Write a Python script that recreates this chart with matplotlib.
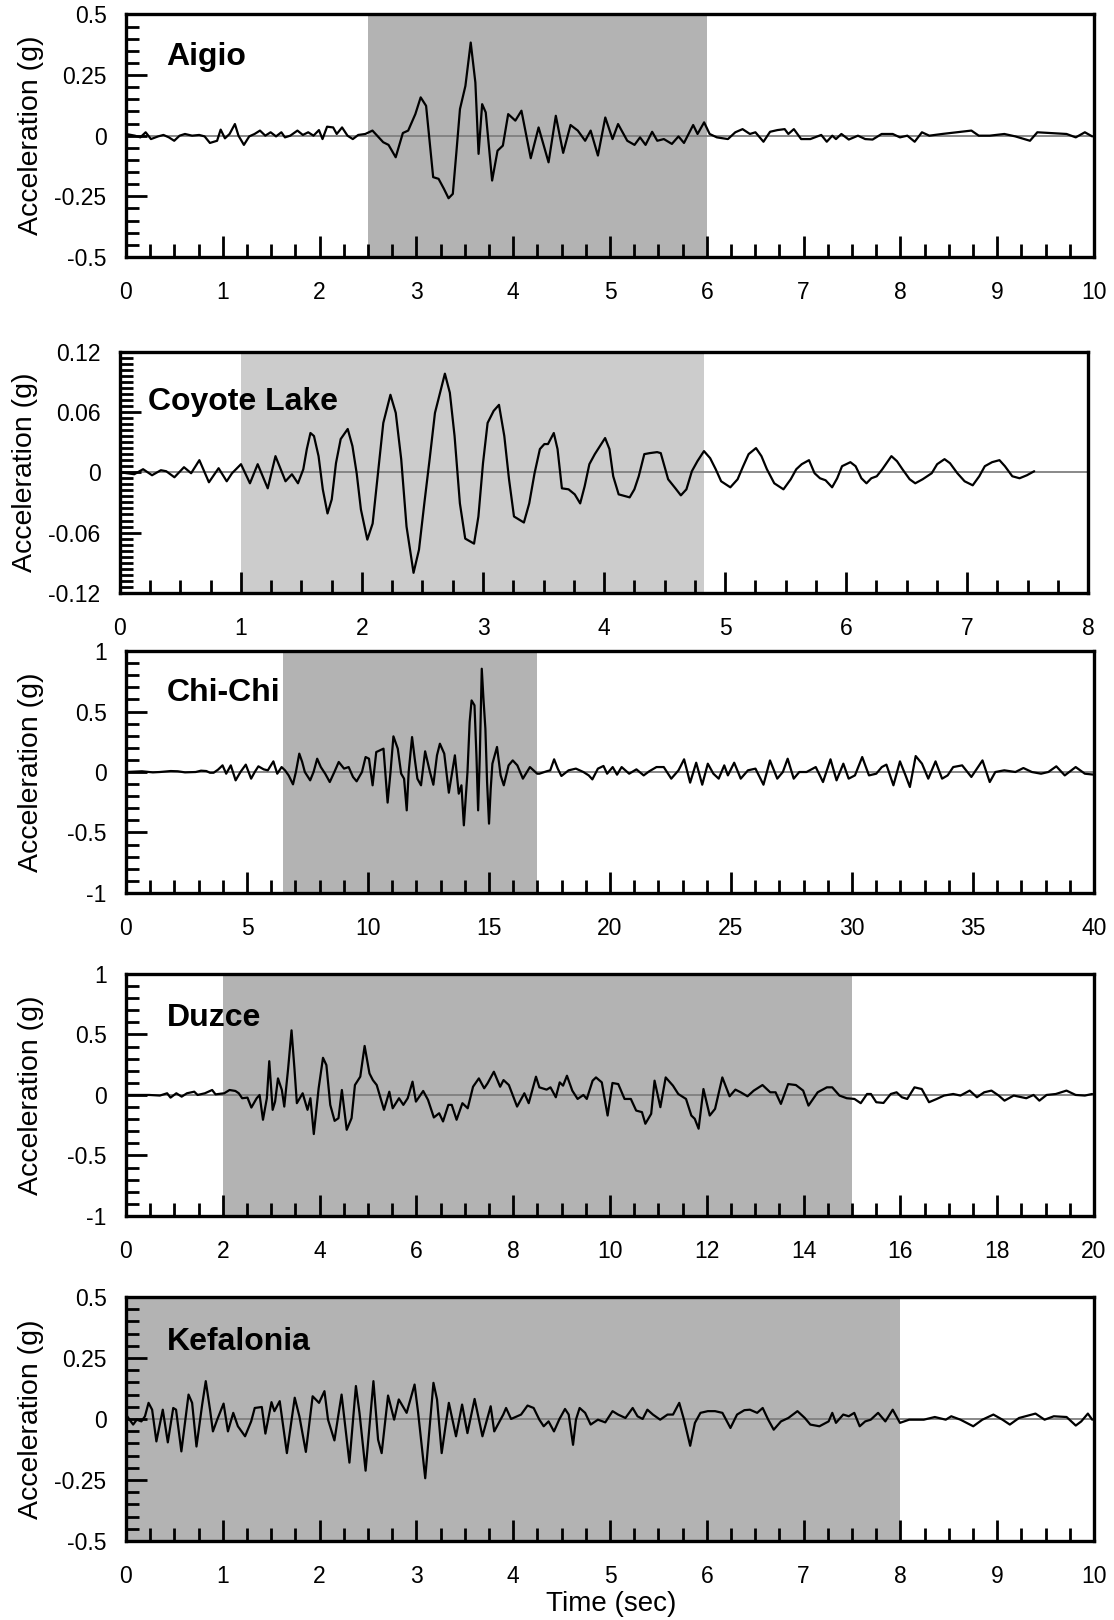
import matplotlib
matplotlib.use('Agg')
import matplotlib.pyplot as plt
from matplotlib.ticker import MultipleLocator, FixedLocator, FixedFormatter

plt.rcParams['font.family'] = ['Liberation Sans', 'DejaVu Sans']

# ---------------- data ----------------
names = ["Aigio", "Coyote Lake", "Chi-Chi", "Duzce", "Kefalonia"]

aigio_t = [0.000, 0.092, 0.148, 0.203, 0.258, 0.332, 0.387, 0.443, 0.498, 0.554, 0.609, 0.683, 0.756, 0.812, 0.867,
           0.941, 0.978, 1.022, 1.070, 1.125, 1.162, 1.218, 1.273, 1.328, 1.384, 1.439, 1.494, 1.550, 1.605, 1.642,
           1.697, 1.771, 1.827, 1.882, 1.937, 1.993, 2.030, 2.077, 2.140, 2.177, 2.232, 2.288, 2.343, 2.399, 2.472,
           2.546, 2.657, 2.712, 2.786, 2.860, 2.915, 2.989, 3.044, 3.100, 3.173, 3.229, 3.284, 3.332, 3.376, 3.413,
           3.450, 3.506, 3.561, 3.609, 3.642, 3.679, 3.716, 3.782, 3.838, 3.893, 3.948, 4.022, 4.085, 4.181, 4.262,
           4.365, 4.440, 4.516, 4.592, 4.667, 4.743, 4.800, 4.875, 4.951, 5.026, 5.083, 5.178, 5.253, 5.310, 5.367,
           5.435, 5.488, 5.556, 5.639, 5.707, 5.764, 5.859, 5.904, 5.972, 6.029, 6.104, 6.218, 6.294, 6.369, 6.445,
           6.502, 6.585, 6.653, 6.728, 6.804, 6.842, 6.899, 6.974, 7.069, 7.182, 7.239, 7.296, 7.334, 7.390, 7.466,
           7.561, 7.636, 7.712, 7.806, 7.920, 7.995, 8.071, 8.147, 8.222, 8.298, 8.430, 8.582, 8.733, 8.809, 8.922,
           9.073, 9.187, 9.338, 9.414, 9.546, 9.716, 9.811, 9.905, 9.981]
aigio_a = [0.007, 0.000, -0.007, 0.014, -0.014, -0.003, 0.003, -0.007, -0.021, 0.000, 0.007, 0.000, 0.003, -0.003, -0.030,
           -0.021, 0.025, -0.011, 0.007, 0.048, 0.000, -0.038, -0.003, 0.007, 0.021, 0.000, 0.014, -0.003, 0.014, -0.007,
           0.000, 0.021, 0.003, 0.014, 0.000, 0.023, -0.014, 0.037, 0.034, 0.007, 0.034, 0.000, -0.014, 0.003, 0.007,
           0.021, -0.027, -0.038, -0.089, 0.011, 0.021, 0.089, 0.158, 0.123, -0.171, -0.178, -0.219, -0.258, -0.240, -0.068,
           0.110, 0.205, 0.384, 0.219, -0.075, 0.130, 0.096, -0.185, -0.062, -0.041, 0.089, 0.062, 0.103, -0.093, 0.034,
           -0.110, 0.082, -0.071, 0.044, 0.021, -0.021, 0.021, -0.082, 0.075, -0.014, 0.048, -0.021, -0.038, -0.007, -0.038,
           0.016, -0.021, -0.014, -0.034, -0.003, -0.030, 0.044, 0.007, 0.055, 0.007, -0.007, -0.014, 0.014, 0.027, 0.007,
           0.014, -0.025, 0.016, 0.023, 0.027, 0.007, 0.027, -0.014, -0.014, 0.003, -0.025, 0.000, -0.014, 0.007, -0.016,
           0.000, -0.014, -0.016, 0.007, 0.007, -0.007, 0.000, -0.025, 0.014, 0.000, 0.007, 0.014, 0.021, 0.000, 0.000,
           0.007, -0.003, -0.021, 0.014, 0.011, 0.007, -0.007, 0.014, -0.003]

coyote_t = [0.000, 0.059, 0.118, 0.191, 0.265, 0.338, 0.382, 0.450, 0.529, 0.588, 0.656, 0.735, 0.815, 0.882, 0.926,
            1.000, 1.074, 1.138, 1.221, 1.285, 1.368, 1.421, 1.471, 1.515, 1.544, 1.574, 1.603, 1.641, 1.676, 1.715,
            1.750, 1.785, 1.824, 1.882, 1.921, 1.956, 1.991, 2.044, 2.088, 2.132, 2.176, 2.235, 2.279, 2.324, 2.368,
            2.426, 2.471, 2.515, 2.559, 2.603, 2.685, 2.726, 2.765, 2.809, 2.853, 2.926, 2.962, 3.000, 3.038, 3.088,
            3.132, 3.176, 3.215, 3.256, 3.338, 3.382, 3.426, 3.470, 3.507, 3.537, 3.585, 3.616, 3.652, 3.707, 3.758,
            3.803, 3.840, 3.879, 3.924, 4.009, 4.045, 4.076, 4.121, 4.212, 4.251, 4.287, 4.333, 4.378, 4.439, 4.469,
            4.530, 4.590, 4.635, 4.681, 4.726, 4.772, 4.826, 4.877, 4.923, 4.968, 5.044, 5.104, 5.150, 5.195, 5.256,
            5.301, 5.346, 5.407, 5.483, 5.543, 5.589, 5.634, 5.694, 5.740, 5.785, 5.831, 5.885, 5.927, 5.967, 6.036,
            6.079, 6.127, 6.169, 6.209, 6.254, 6.300, 6.375, 6.421, 6.466, 6.526, 6.572, 6.633, 6.708, 6.753, 6.814,
            6.859, 6.920, 6.980, 7.047, 7.101, 7.147, 7.207, 7.268, 7.313, 7.374, 7.434, 7.495, 7.555]
coyote_a = [0.000, -0.001, -0.002, 0.003, -0.003, 0.002, 0.001, -0.005, 0.005, -0.001, 0.012, -0.010, 0.004, -0.009, -0.001,
            0.008, -0.011, 0.008, -0.016, 0.016, -0.009, -0.002, -0.011, 0.003, 0.023, 0.039, 0.036, 0.016, -0.017, -0.041,
            -0.027, 0.009, 0.033, 0.043, 0.026, -0.001, -0.037, -0.067, -0.051, -0.001, 0.049, 0.077, 0.059, 0.013, -0.054,
            -0.100, -0.077, -0.031, 0.013, 0.059, 0.098, 0.079, 0.036, -0.031, -0.066, -0.071, -0.044, 0.009, 0.049, 0.061,
            0.067, 0.036, -0.007, -0.044, -0.050, -0.031, -0.001, 0.023, 0.028, 0.028, 0.039, 0.023, -0.016, -0.017, -0.022,
            -0.031, -0.014, 0.008, 0.018, 0.034, 0.023, -0.004, -0.022, -0.025, -0.017, -0.004, 0.018, 0.019, 0.020, 0.019,
            -0.007, -0.016, -0.023, -0.017, 0.001, 0.011, 0.021, 0.014, 0.003, -0.009, -0.015, -0.007, 0.006, 0.018, 0.024,
            0.016, 0.003, -0.011, -0.017, -0.007, 0.003, 0.008, 0.012, -0.001, -0.006, -0.008, -0.015, -0.006, 0.006, 0.010,
            0.006, -0.006, -0.011, -0.006, -0.004, 0.003, 0.016, 0.011, 0.003, -0.007, -0.011, -0.007, -0.001, 0.008, 0.013,
            0.009, -0.001, -0.009, -0.013, -0.004, 0.006, 0.010, 0.012, 0.006, -0.004, -0.006, -0.003, 0.001]

chichi_t = [0.00, 0.66, 1.11, 1.40, 1.85, 2.14, 2.44, 2.88, 3.10, 3.32, 3.47, 3.62, 3.80, 3.99, 4.14, 4.33, 4.53, 4.73,
            4.95, 5.17, 5.32, 5.47, 5.69, 5.86, 6.09, 6.25, 6.43, 6.57, 6.72, 6.90, 7.02, 7.16, 7.28, 7.39, 7.61, 7.75,
            7.90, 8.05, 8.23, 8.42, 8.61, 8.79, 9.01, 9.20, 9.38, 9.53, 9.75, 9.90, 10.04, 10.19, 10.34, 10.49, 10.64,
            10.81, 10.93, 11.05, 11.23, 11.37, 11.49, 11.60, 11.68, 11.82, 11.93, 12.04, 12.19, 12.36, 12.56, 12.70,
            12.85, 12.97, 13.15, 13.34, 13.59, 13.75, 13.86, 13.96, 14.11, 14.20, 14.28, 14.40, 14.48, 14.55, 14.62,
            14.70, 14.77, 14.85, 14.92, 15.00, 15.07, 15.14, 15.33, 15.48, 15.61, 15.81, 15.98, 16.17, 16.40, 16.69,
            16.99, 17.08, 17.38, 17.53, 17.69, 17.84, 17.99, 18.29, 18.59, 18.90, 19.12, 19.27, 19.50, 19.73, 19.88,
            20.11, 20.29, 20.48, 20.79, 21.09, 21.39, 21.62, 21.92, 22.22, 22.53, 22.83, 23.06, 23.31, 23.56, 23.81,
            24.04, 24.27, 24.49, 24.72, 24.87, 25.13, 25.40, 25.70, 26.01, 26.34, 26.61, 26.91, 27.14, 27.34, 27.59,
            27.82, 28.12, 28.50, 28.80, 29.11, 29.36, 29.64, 29.86, 30.12, 30.42, 30.70, 31.00, 31.23, 31.42, 31.71,
            31.98, 32.21, 32.39, 32.63, 32.89, 33.15, 33.45, 33.72, 33.95, 34.18, 34.55, 34.93, 35.39, 35.69, 35.92,
            36.29, 36.75, 37.08, 37.43, 37.81, 38.11, 38.44, 38.79, 39.24, 39.62, 40.00]
chichi_a = [0.000, 0.006, -0.003, 0.000, 0.008, 0.006, -0.003, 0.000, 0.011, 0.008, -0.006, -0.006, 0.019, 0.055, -0.014,
            0.055, -0.069, 0.000, 0.061, -0.055, 0.000, 0.047, 0.022, 0.014, 0.088, -0.014, 0.041, 0.014, -0.028, -0.102,
            0.000, 0.152, 0.083, 0.000, -0.069, 0.000, 0.110, 0.041, -0.014, -0.083, 0.000, 0.083, 0.028, 0.041, -0.041,
            -0.077, 0.000, 0.124, 0.110, -0.110, 0.165, 0.179, 0.193, -0.253, 0.000, 0.295, 0.193, -0.014, -0.055, -0.317,
            0.000, 0.289, 0.110, -0.055, -0.110, 0.171, 0.000, -0.105, 0.138, 0.234, 0.152, -0.171, 0.138, -0.179, -0.110,
            -0.441, 0.000, 0.413, 0.592, 0.551, 0.138, -0.317, 0.138, 0.854, 0.606, 0.358, -0.083, -0.427, -0.138, 0.069,
            0.207, -0.028, -0.110, 0.055, 0.096, 0.055, -0.055, 0.041, -0.014, -0.014, 0.006, 0.014, 0.105, 0.028, -0.033,
            0.014, 0.028, 0.000, -0.028, -0.061, 0.028, 0.050, -0.014, 0.041, -0.022, 0.041, -0.014, 0.022, -0.028, 0.006,
            0.041, 0.041, -0.055, 0.014, 0.105, -0.088, 0.077, -0.105, 0.069, -0.014, -0.055, 0.055, -0.028, 0.077, -0.055,
            0.014, 0.028, -0.105, 0.096, -0.055, 0.000, 0.110, -0.055, 0.000, 0.000, 0.041, -0.083, 0.105, -0.069, 0.069,
            -0.055, -0.028, 0.124, -0.028, -0.014, 0.041, 0.061, -0.110, 0.088, -0.028, -0.124, 0.132, 0.069, -0.055, 0.088,
            -0.055, -0.028, 0.041, 0.055, -0.041, 0.096, -0.083, 0.000, 0.014, 0.000, 0.033, 0.000, -0.014, 0.000, 0.047,
            -0.028, 0.041, -0.014, -0.022]

duzce_t = [0.00, 0.48, 0.70, 0.85, 0.92, 1.04, 1.15, 1.26, 1.41, 1.48, 1.63, 1.78, 1.85, 2.03, 2.14, 2.26, 2.33, 2.40,
           2.51, 2.59, 2.70, 2.76, 2.83, 2.91, 2.96, 3.03, 3.08, 3.14, 3.22, 3.27, 3.35, 3.42, 3.48, 3.53, 3.65, 3.75,
           3.81, 3.88, 3.98, 4.07, 4.14, 4.22, 4.31, 4.39, 4.46, 4.56, 4.66, 4.73, 4.84, 4.93, 5.03, 5.10, 5.18, 5.33,
           5.44, 5.51, 5.64, 5.73, 5.82, 5.92, 5.99, 6.14, 6.24, 6.36, 6.47, 6.55, 6.66, 6.73, 6.83, 6.95, 7.06, 7.17,
           7.29, 7.40, 7.47, 7.60, 7.73, 7.80, 7.91, 8.08, 8.23, 8.32, 8.47, 8.54, 8.69, 8.77, 8.88, 8.96, 9.03, 9.11,
           9.22, 9.33, 9.45, 9.52, 9.64, 9.71, 9.83, 9.95, 10.05, 10.17, 10.30, 10.43, 10.54, 10.66, 10.73, 10.85,
           10.92, 11.04, 11.15, 11.30, 11.41, 11.57, 11.68, 11.75, 11.83, 11.93, 12.06, 12.17, 12.32, 12.47, 12.59,
           12.70, 12.84, 12.97, 13.15, 13.31, 13.42, 13.53, 13.68, 13.84, 13.99, 14.10, 14.29, 14.48, 14.59, 14.74,
           14.89, 15.05, 15.18, 15.31, 15.39, 15.50, 15.65, 15.80, 15.92, 16.03, 16.14, 16.29, 16.44, 16.59, 16.75,
           16.90, 17.09, 17.24, 17.43, 17.58, 17.73, 17.88, 18.03, 18.15, 18.34, 18.60, 18.75, 18.87, 19.02, 19.21,
           19.43, 19.62, 19.81, 19.96]
duzce_a = [0.000, 0.000, -0.005, 0.014, -0.022, 0.014, -0.014, 0.014, 0.027, 0.000, 0.014, 0.041, 0.005, 0.014, 0.041,
           0.033, 0.014, -0.027, -0.022, -0.104, -0.027, 0.000, -0.205, -0.027, 0.279, -0.123, -0.055, 0.137, 0.041, -0.096,
           0.219, 0.534, 0.219, -0.068, 0.014, -0.123, -0.027, -0.323, 0.055, 0.307, 0.247, -0.082, -0.214, -0.192, 0.041,
           -0.288, -0.192, 0.082, 0.151, 0.405, 0.178, 0.123, 0.082, -0.123, 0.027, -0.110, -0.027, -0.082, -0.027, 0.110,
           -0.055, 0.033, -0.041, -0.186, -0.151, -0.219, -0.082, -0.082, -0.205, -0.068, -0.110, 0.068, 0.137, 0.055,
           0.096, 0.192, 0.068, 0.123, 0.082, -0.096, 0.014, -0.068, 0.151, 0.063, 0.044, 0.063, -0.019, 0.104, 0.077,
           0.159, 0.036, -0.033, 0.000, -0.033, 0.118, 0.145, 0.104, -0.170, 0.099, 0.090, -0.033, -0.033, -0.129, -0.142,
           -0.238, -0.156, 0.118, -0.101, 0.145, 0.077, 0.008, -0.033, -0.170, -0.197, -0.279, 0.049, -0.170, -0.115,
           0.145, -0.011, 0.044, 0.022, -0.011, 0.036, 0.082, 0.022, 0.022, -0.074, 0.090, 0.082, 0.036, -0.088, 0.022,
           0.063, 0.063, -0.005, -0.027, -0.033, -0.068, 0.008, 0.008, -0.060, -0.066, 0.008, 0.022, -0.019, -0.033,
           0.063, 0.049, -0.060, -0.033, -0.005, 0.008, -0.005, 0.036, -0.019, 0.022, 0.036, -0.005, -0.047, -0.005,
           -0.027, 0.000, -0.047, 0.000, 0.008, 0.036, 0.000, -0.005, 0.008]

kefalonia_t = [0.000, 0.037, 0.074, 0.111, 0.159, 0.196, 0.233, 0.270, 0.314, 0.380, 0.432, 0.488, 0.517, 0.572, 0.646,
               0.683, 0.728, 0.787, 0.824, 0.868, 0.898, 0.942, 1.008, 1.053, 1.108, 1.156, 1.230, 1.293, 1.330, 1.403,
               1.440, 1.503, 1.533, 1.588, 1.662, 1.743, 1.791, 1.858, 1.928, 1.994, 2.050, 2.087, 2.153, 2.227, 2.308,
               2.375, 2.412, 2.475, 2.556, 2.604, 2.641, 2.707, 2.770, 2.818, 2.899, 2.981, 3.018, 3.091, 3.176, 3.213,
               3.261, 3.335, 3.409, 3.472, 3.527, 3.601, 3.682, 3.767, 3.804, 3.897, 3.926, 3.978, 4.081, 4.148, 4.211,
               4.270, 4.315, 4.365, 4.421, 4.478, 4.535, 4.573, 4.618, 4.648, 4.686, 4.743, 4.800, 4.875, 4.951, 5.026,
               5.083, 5.159, 5.234, 5.284, 5.337, 5.386, 5.443, 5.518, 5.594, 5.651, 5.715, 5.764, 5.828, 5.877, 5.934,
               6.010, 6.085, 6.161, 6.244, 6.312, 6.388, 6.445, 6.520, 6.577, 6.634, 6.691, 6.766, 6.842, 6.936, 7.012,
               7.069, 7.163, 7.258, 7.296, 7.334, 7.409, 7.466, 7.523, 7.579, 7.636, 7.693, 7.769, 7.844, 7.920, 7.995,
               8.090, 8.241, 8.355, 8.468, 8.525, 8.620, 8.752, 8.846, 8.960, 9.054, 9.130, 9.225, 9.395, 9.489, 9.584,
               9.716, 9.811, 9.868, 9.936, 9.981]
kefalonia_a = [0.018, -0.003, -0.023, -0.003, -0.010, 0.011, 0.066, 0.038, -0.092, 0.038, -0.096, 0.045, 0.038, -0.133, 0.100,
               0.066, -0.113, 0.059, 0.155, 0.038, -0.051, -0.003, 0.063, -0.051, 0.025, -0.030, -0.071, -0.010, 0.045, 0.049,
               -0.060, 0.069, 0.032, 0.073, -0.140, 0.087, 0.011, -0.135, 0.093, 0.066, 0.114, -0.003, -0.088, 0.100, -0.179,
               0.135, 0.025, -0.212, 0.155, -0.085, -0.140, 0.096, -0.003, 0.080, 0.025, 0.141, 0.025, -0.243, 0.148, 0.080,
               -0.140, 0.066, -0.071, 0.059, -0.058, 0.082, -0.071, 0.052, -0.051, 0.018, 0.045, 0.000, 0.018, 0.055, 0.045,
               -0.003, -0.030, -0.010, -0.051, 0.000, 0.041, 0.018, -0.106, -0.003, 0.045, 0.025, -0.023, -0.003, -0.014, 0.032,
               0.018, 0.004, 0.045, 0.011, 0.000, 0.038, 0.018, -0.003, 0.018, 0.018, 0.066, -0.003, -0.110, -0.016, 0.025,
               0.032, 0.032, 0.025, -0.037, 0.018, 0.036, 0.038, 0.025, 0.045, -0.003, -0.044, -0.010, 0.004, 0.032, 0.004,
               -0.023, -0.030, -0.010, 0.025, -0.016, 0.018, 0.011, 0.025, -0.030, -0.010, -0.003, 0.025, -0.010, 0.038, -0.016,
               -0.003, -0.003, 0.008, -0.003, 0.011, -0.003, -0.030, -0.003, 0.018, -0.003, -0.023, 0.004, 0.022, -0.003, 0.011,
               0.008, -0.027, -0.010, 0.022, -0.003]

series_t = [aigio_t, coyote_t, chichi_t, duzce_t, kefalonia_t]
series_a = [aigio_a, coyote_a, chichi_a, duzce_a, kefalonia_a]

# significant-duration windows (shaded)
shade_start = [2.5, 1.0, 6.5, 2.0, 0.0]
shade_end = [6.0, 4.83, 17.0, 15.0, 8.0]

x_max = [10, 8, 40, 20, 10]
x_major = [1, 1, 5, 2, 1]
x_minor = [0.25, 0.25, 1, 0.5, 0.25]

y_ticks = [[-0.5, -0.25, 0, 0.25, 0.5],
           [-0.12, -0.06, 0, 0.06, 0.12],
           [-1, -0.5, 0, 0.5, 1],
           [-1, -0.5, 0, 0.5, 1],
           [-0.5, -0.25, 0, 0.25, 0.5]]
y_ticklabels = [["-0.5", "-0.25", "0", "0.25", "0.5"],
                ["-0.12", "-0.06", "0", "0.06", "0.12"],
                ["-1", "-0.5", "0", "0.5", "1"],
                ["-1", "-0.5", "0", "0.5", "1"],
                ["-0.5", "-0.25", "0", "0.25", "0.5"]]
y_minor = [0.05, 0.006, 0.1, 0.1, 0.05]

# ---------------- styling / layout ----------------
shade_colors = ['#b3b3b3', '#cccccc', '#b3b3b3', '#b3b3b3', '#b3b3b3']
rects = [[0.1131, 0.8414, 0.869, 0.1497],
         [0.1077, 0.6340, 0.869, 0.1490],
         [0.1131, 0.4488, 0.869, 0.1493],
         [0.1131, 0.2494, 0.869, 0.1494],
         [0.1131, 0.0488, 0.869, 0.1506]]
name_pos = [(0.042, 0.825), (0.029, 0.793), (0.042, 0.826), (0.042, 0.818), (0.042, 0.814)]

fig = plt.figure(figsize=(11.14, 16.2), dpi=100)

for i in range(5):
    ax = fig.add_axes(rects[i])
    ymax = y_ticks[i][-1]
    ax.axvspan(shade_start[i], shade_end[i], color=shade_colors[i], lw=0, zorder=0)
    ax.axhline(0, color='#808080', lw=1.3, zorder=1)
    ax.plot(series_t[i], series_a[i], color='black', lw=1.6, zorder=3,
            solid_joinstyle='round', solid_capstyle='round')
    ax.set_xlim(0, x_max[i])
    ax.set_ylim(-ymax, ymax)

    ax.xaxis.set_major_locator(MultipleLocator(x_major[i]))
    ax.xaxis.set_minor_locator(MultipleLocator(x_minor[i]))
    ax.yaxis.set_major_locator(FixedLocator(y_ticks[i]))
    ax.yaxis.set_major_formatter(FixedFormatter(y_ticklabels[i]))
    ax.yaxis.set_minor_locator(MultipleLocator(y_minor[i]))

    ax.tick_params(axis='both', which='both', direction='in', top=False, right=False,
                   colors='black', zorder=4)
    ax.tick_params(axis='both', which='major', length=15, width=2.0, labelsize=16.5)
    ax.tick_params(axis='both', which='minor', length=9.5, width=2.0)
    ax.tick_params(axis='y', which='major', pad=14)
    ax.tick_params(axis='x', which='major', pad=17)

    for sp in ax.spines.values():
        sp.set_linewidth(2.4)
        sp.set_color('black')
        sp.set_zorder(5)

    ax.set_ylabel("Acceleration (g)", fontsize=20.5)
    ax.yaxis.set_label_coords(-0.085, 0.5)

    ax.text(name_pos[i][0], name_pos[i][1], names[i], transform=ax.transAxes,
            fontsize=23, fontweight='bold', ha='left', va='center', zorder=6)

fig.text(0.549, 1 - 1604 / 1620, "Time (sec)", fontsize=20, ha='center', va='center')

fig.savefig('out.png', dpi=100)
